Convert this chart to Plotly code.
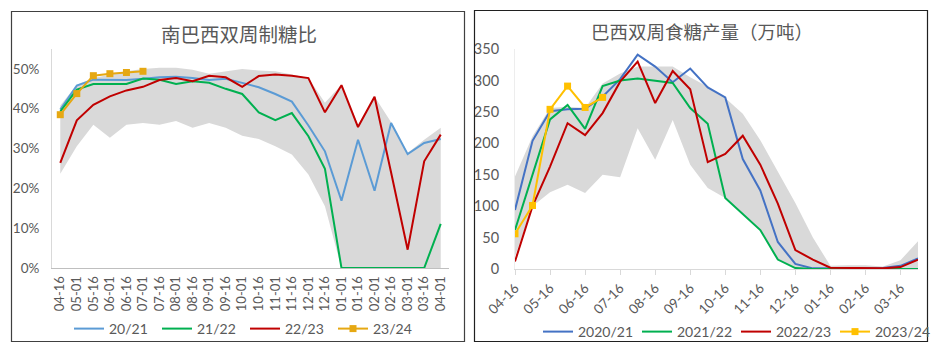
import plotly.graph_objects as go

# ---------------- data ----------------
cats = ["04-16", "05-01", "05-16", "06-01", "06-16", "07-01", "07-16", "08-01",
        "08-16", "09-01", "09-16", "10-01", "10-16", "11-01", "11-16", "12-01",
        "12-16", "01-01", "01-16", "02-01", "02-16", "03-01", "03-16", "04-01"]

# Left: 南巴西双周制糖比 (%)
ratio_2021 = [39.8, 45.8, 47.3, 47.3, 47.2, 47.5, 47.9, 48.0, 47.7, 47.2, 47.5, 46.5,
              45.4, 43.7, 41.8, 35.8, 29.3, 16.9, 32.2, 19.4, 36.4, 28.6, 31.4, 32.4]
ratio_2122 = [39.3, 44.8, 46.2, 46.2, 46.2, 47.6, 47.3, 46.2, 46.9, 46.5, 45.0, 43.7,
              39.1, 37.1, 38.9, 33.1, 24.9, 0.0, 0.0, 0.0, 0.0, 0.0, 0.0, 11.1]
ratio_2223 = [26.4, 37.1, 41.0, 43.1, 44.6, 45.5, 47.2, 47.7, 46.9, 48.3, 47.9, 45.5,
              48.2, 48.6, 48.3, 47.7, 39.1, 45.9, 35.4, 43.0, 24.0, 4.6, 26.8, 33.5]
ratio_2324 = [38.5, 43.8, 48.3, 48.8, 49.1, 49.4]
ratio_band_hi = [40.8, 46.0, 47.7, 48.6, 49.4, 50.0, 50.3, 50.3, 49.8, 48.8, 49.4, 50.0,
                 49.6, 49.4, 48.6, 47.7, 41.5, 46.0, 36.0, 43.1, 36.6, 28.9, 32.2, 35.2]
ratio_band_lo = [23.7, 30.6, 36.0, 32.7, 36.0, 36.4, 36.0, 36.9, 35.2, 36.4, 35.2, 33.2,
                 32.4, 30.6, 28.5, 23.5, 15.5, 0.0, 0.0, 0.0, 0.0, 0.0, 0.0, 0.0]

# Right: 巴西双周食糖产量（万吨）
prod_2021 = [94, 204, 251, 254, 255, 274, 302, 341, 322, 297, 319, 289,
             273, 175, 125, 43, 8, 1, 1, 1.5, 1.5, 1.5, 5, 17]
prod_2122 = [62, 150, 238, 261, 223, 291, 300, 303, 300, 296, 256, 231,
             113, 87, 62, 15, 1.5, 0, 0, 0, 0, 0, 0, 0]
prod_2223 = [12, 100, 163, 232, 213, 248, 298, 330, 264, 315, 286, 170,
             183, 212, 166, 104, 30, 15, 2, 2, 1, 1, 3, 15]
prod_2324 = [56, 101, 254, 291, 257, 273]
prod_band_hi = [147, 211, 256, 258, 256, 295, 311, 322, 322, 322, 305, 290,
                272, 247, 205, 155, 105, 50, 5, 6, 6, 4, 14, 44]
prod_band_lo = [20, 100, 122, 134, 121, 150, 146, 224, 174, 237, 166, 129,
                113, 87, 62, 15, 1, 0, 0, 0, 0, 0, 0, 0]

left_series = ["20/21", "21/22", "22/23", "23/24"]
right_series = ["2020/21", "2021/22", "2022/23", "2023/24"]

# ---------------- layout helpers ----------------
W, H = 941, 356
def px(x):
    return x / W
def py(y):
    return 1 - y / H

GRAY_TXT = "#595959"
NUM_FONT = "Lato, 'Noto Sans', sans-serif"
CJK_FONT = "'Noto Sans CJK SC', sans-serif"
BAND = "#D9D9D9"

fig = go.Figure()
idx = list(range(len(cats)))

def pct(v):
    return [a / 100 for a in v]

# ----- left chart -----
fig.add_trace(go.Scatter(x=idx, y=pct(ratio_band_lo), mode="lines", line=dict(width=0, color=BAND),
                         showlegend=False, hoverinfo="skip", xaxis="x", yaxis="y"))
fig.add_trace(go.Scatter(x=idx, y=pct(ratio_band_hi), mode="lines", line=dict(width=0, color=BAND),
                         fill="tonexty", fillcolor=BAND, showlegend=False, hoverinfo="skip",
                         xaxis="x", yaxis="y"))
left_cols = ["#5B9BD5", "#00B050", "#C00000", "#E6A812"]
for name, vals, col in zip(left_series, [ratio_2021, ratio_2122, ratio_2223, ratio_2324], left_cols):
    is_last = name == "23/24"
    fig.add_trace(go.Scatter(
        x=idx[:len(vals)], y=pct(vals), name=name,
        mode="lines+markers" if is_last else "lines",
        line=dict(color=col, width=2),
        marker=dict(symbol="square", size=7, color=col) if is_last else None,
        xaxis="x", yaxis="y", legend="legend"))

# ----- right chart -----
fig.add_trace(go.Scatter(x=idx, y=prod_band_lo, mode="lines", line=dict(width=0, color=BAND),
                         showlegend=False, hoverinfo="skip", xaxis="x2", yaxis="y2"))
fig.add_trace(go.Scatter(x=idx, y=prod_band_hi, mode="lines", line=dict(width=0, color=BAND),
                         fill="tonexty", fillcolor=BAND, showlegend=False, hoverinfo="skip",
                         xaxis="x2", yaxis="y2"))
right_cols = ["#4472C4", "#00B050", "#C00000", "#FFC000"]
for name, vals, col in zip(right_series, [prod_2021, prod_2122, prod_2223, prod_2324], right_cols):
    is_last = name == "2023/24"
    fig.add_trace(go.Scatter(
        x=idx[:len(vals)], y=vals, name=name,
        mode="lines+markers" if is_last else "lines",
        line=dict(color=col, width=2),
        marker=dict(symbol="square", size=7, color=col) if is_last else None,
        xaxis="x2", yaxis="y2", legend="legend2"))

axis_common = dict(showgrid=False, zeroline=False, fixedrange=True)

fig.update_layout(
    width=W, height=H,
    margin=dict(l=0, r=0, t=0, b=0, autoexpand=False),
    paper_bgcolor="white", plot_bgcolor="white",
    font=dict(family=NUM_FONT, color=GRAY_TXT, size=13),
    xaxis=dict(domain=[px(52), px(449)], range=[-0.5, 23.5],
               tickmode="array", tickvals=idx, ticktext=cats, tickangle=-90,
               showline=True, linecolor="#BFBFBF", linewidth=1, ticks="",
               ticklabelstandoff=2,
               tickfont=dict(size=13, color=GRAY_TXT), anchor="y", **axis_common),
    yaxis=dict(domain=[py(268), py(49)], range=[0, 0.55],
               tickmode="array", tickvals=[0, 0.1, 0.2, 0.3, 0.4, 0.5], tickformat=".0%",
               showline=True, linecolor="#D9D9D9", linewidth=1, ticks="",
               ticklabelstandoff=9,
               tickfont=dict(size=13.5, color=GRAY_TXT), anchor="x", **axis_common),
    xaxis2=dict(domain=[px(515), px(918)], range=[0, 23],
                tickmode="array", tickvals=idx[::2], ticktext=cats[::2], tickangle=-45,
                showline=True, linecolor="#D9D9D9", linewidth=1,
                ticks="outside", ticklen=5, tickcolor="#D9D9D9",
                tickfont=dict(size=13.5, color=GRAY_TXT), anchor="y2", **axis_common),
    yaxis2=dict(domain=[py(269), py(49)], range=[0, 350],
                tickmode="array", tickvals=[0, 50, 100, 150, 200, 250, 300, 350],
                showline=True, linecolor="#EDEDED", linewidth=1, ticks="",
                ticklabelstandoff=12,
                tickfont=dict(size=14.5, color=GRAY_TXT), anchor="x2", **axis_common),
    legend=dict(orientation="h", x=px(69), y=py(329), xanchor="left", yanchor="middle",
                entrywidth=43, entrywidthmode="pixels", traceorder="normal",
                font=dict(size=14, color=GRAY_TXT, family=NUM_FONT),
                bgcolor="rgba(0,0,0,0)", itemclick=False, itemdoubleclick=False),
    legend2=dict(orientation="h", x=px(538), y=py(332), xanchor="left", yanchor="middle",
                 entrywidth=54, entrywidthmode="pixels", traceorder="normal",
                 font=dict(size=14, color=GRAY_TXT, family=NUM_FONT),
                 bgcolor="rgba(0,0,0,0)", itemclick=False, itemdoubleclick=False),
    shapes=[
        dict(type="rect", xref="paper", yref="paper", x0=px(11.5), x1=px(464.5), y0=py(341.5), y1=py(11.5),
             line=dict(color="#404040", width=1.2), fillcolor="rgba(0,0,0,0)", layer="above"),
        dict(type="rect", xref="paper", yref="paper", x0=px(474.5), x1=px(927.5), y0=py(341.5), y1=py(10.5),
             line=dict(color="#202020", width=1.2), fillcolor="rgba(0,0,0,0)", layer="above"),
    ],
    annotations=[
        dict(text="南巴西双周制糖比", xref="paper", yref="paper", x=px(239), y=py(33),
             xanchor="center", yanchor="middle", showarrow=False,
             font=dict(family=CJK_FONT, size=19.5, color=GRAY_TXT)),
        dict(text="巴西双周食糖产量（万吨）", xref="paper", yref="paper", x=px(702), y=py(31),
             xanchor="center", yanchor="middle", showarrow=False,
             font=dict(family=CJK_FONT, size=18.5, color=GRAY_TXT)),
    ],
    hovermode=False,
)

fig.write_html("out.html", config={"displayModeBar": False},
               post_script="document.body.style.margin='0px';document.body.style.overflow='hidden';")
